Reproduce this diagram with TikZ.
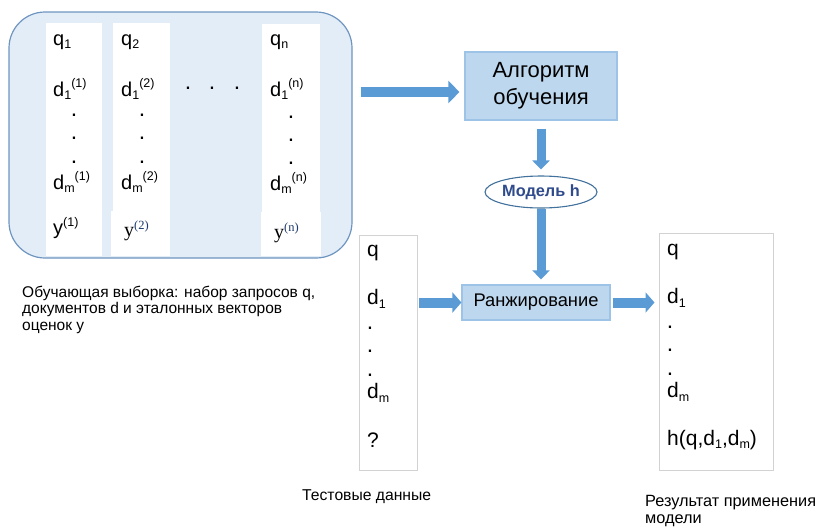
\documentclass[tikz,border=0pt]{standalone}
\usepackage{fontspec}
\setmainfont{Liberation Sans}
\newfontfamily\timesfont{Liberation Serif}
\usetikzlibrary{arrows.meta,shapes.geometric}

\definecolor{boxfill}{HTML}{E3EDF8}
\definecolor{boxline}{HTML}{6E95C0}
\definecolor{arrowfill}{HTML}{5B9BD5}
\definecolor{arrowline}{HTML}{41719C}
\definecolor{stepfill}{HTML}{BDD7EE}
\definecolor{stepline}{HTML}{9DC3E6}
\definecolor{modeltext}{HTML}{2F4B8C}
\definecolor{listline}{HTML}{D2D2D2}
\definecolor{supblue}{HTML}{1F3A6E}

\newcommand{\subx}[1]{\raisebox{-0.3ex}{\fontsize{12.5}{12}\selectfont #1}}
\newcommand{\supx}[1]{\raisebox{0.8ex}{\fontsize{12.5}{12}\selectfont #1}}

\tikzset{
  col/.style={anchor=west, inner sep=0pt, font=\fontsize{20}{22}\selectfont},
  lst/.style={anchor=west, inner sep=0pt, font=\fontsize{21}{24}\selectfont},
  pt/.style={inner sep=0pt, font=\fontsize{23}{24}\selectfont},
  stepbox/.style={draw=stepline, fill=stepfill, line width=1.2pt, inner sep=0pt},
  listbox/.style={draw=listline, fill=white, line width=1pt, inner sep=0pt},
  caption/.style={anchor=north west, inner sep=0pt, align=left},
  bigarrow/.style={draw=arrowfill, line width=#1},
  bigarrow/.default=10pt
}

\begin{document}
\begin{tikzpicture}[x=1pt,y=-1pt]
\useasboundingbox (0,0) rectangle (816,528);

% training set:
\node[draw=boxline, fill=boxfill, line width=1.2pt, rounded corners=36pt,
  minimum width=343pt, minimum height=246pt, inner sep=0pt] (train) at (180.5,135) {};
\fill[white] (46,23) rectangle (102,256);
\fill[white] (113,23) rectangle (170,256);
\fill[white] (111,211) rectangle (170,256);
\fill[white] (262,24) rectangle (320,256);
\fill[white] (261,212) rectangle (321,256);

\node[col] (q1) at (53,42) {q\subx{1}};
\node[col] (d11) at (53,89) {d\subx{1}\supx{(1)}};
\node[col] (dm1) at (53,182) {d\subx{m}\supx{(1)}};
\node[col] (y1) at (53,228) {y\supx{(1)}};

\node[col] (q2) at (121,42) {q\subx{2}};
\node[col] (d12) at (121,89) {d\subx{1}\supx{(2)}};
\node[col] (dm2) at (121,182) {d\subx{m}\supx{(2)}};
\node[col] (y2) at (124,231) {\timesfont y{\color{supblue}\supx{(2)}}};

\node[col] (qn) at (270,42) {q\subx{n}};
\node[col] (d1n) at (270,89) {d\subx{1}\supx{(n)}};
\node[col] (dmn) at (270,183) {d\subx{m}\supx{(n)}};
\node[col] (yn) at (274,233) {\timesfont y{\color{supblue}\supx{(n)}}};

\foreach \y in {115,138,162} {
  \node[pt] at (74,\y) {.};
  \node[pt] at (142,\y) {.};
}
\foreach \y in {117,140,163}
  \node[pt] at (291,\y) {.};
\foreach \x in {188,212,237}
  \node[pt] at (\x,88) {.};

\node[caption, font=\fontsize{15.5}{16.3}\selectfont] (trainlbl) at (22,286)
  {Обучающая выборка: набор запросов q,\\документов d и эталонных векторов\\оценок y};

% learning:
\node[stepbox, minimum width=152pt, minimum height=68pt, align=center,
  font=\fontsize{22}{27}\selectfont] (algo) at (541,86) {Алгоритм\\обучения};
\node[ellipse, draw=arrowline, fill=white, line width=1.1pt, minimum width=112pt,
  minimum height=32pt, inner sep=0pt, text=modeltext,
  font=\fontsize{16.3}{18}\bfseries] (model) at (541,192) {Модель h};

\draw[bigarrow, shorten <=8pt, shorten >=5pt, -{Triangle[length=11pt,width=22pt]}]
  (train.east |- 0,92) -- (algo.west |- 0,92);
\draw[bigarrow=9pt, shorten <=8pt, shorten >=6pt, -{Triangle[length=9pt,width=17pt]}]
  (algo.south) -- (model.north);

% ranking:
\node[stepbox, minimum width=148pt, minimum height=35pt,
  font=\fontsize{18.3}{22}\selectfont] (rank) at (536,302.5) {Ранжирование};
\draw[bigarrow=9pt, shorten >=5pt, -{Triangle[length=9pt,width=17pt]}]
  (model.south) -- (model.south |- rank.north);

\node[listbox, minimum width=58pt, minimum height=235pt] (test) at (388,352.5) {};
\node[lst] (tq) at (367,253) {q};
\node[lst] (td1) at (367,299) {d\subx{1}};
\node[lst] (tdm) at (367,393) {d\subx{m}};
\node[lst] (tres) at (367,440) {?};
\foreach \y in {328,351,375}
  \node[pt] at (370,\y) {.};
\node[anchor=west, inner sep=0pt, font=\fontsize{15.7}{18}\selectfont] (testlbl) at (302,497) {Тестовые данные};

\node[listbox, minimum width=114pt, minimum height=237pt] (result) at (716,351.5) {};
\node[lst] (rq) at (667,252) {q};
\node[lst] (rd1) at (667,298) {d\subx{1}};
\node[lst] (rdm) at (667,392) {d\subx{m}};
\node[lst] (rres) at (667,440) {h(q,d\subx{1},d\subx{m})};
\foreach \y in {327,350,374}
  \node[pt] at (670,\y) {.};
\node[caption, font=\fontsize{16.3}{17}\selectfont] (resultlbl) at (645,495)
  {Результат применения\\модели};

\draw[bigarrow, shorten <=1pt, -{Triangle[length=9pt,width=20pt]}]
  (test.east |- rank.west) -- (rank.west);
\draw[bigarrow, shorten <=2pt, shorten >=4pt, -{Triangle[length=9pt,width=20pt]}]
  (rank.east) -- (result.west |- rank.east);

\end{tikzpicture}
\end{document}
